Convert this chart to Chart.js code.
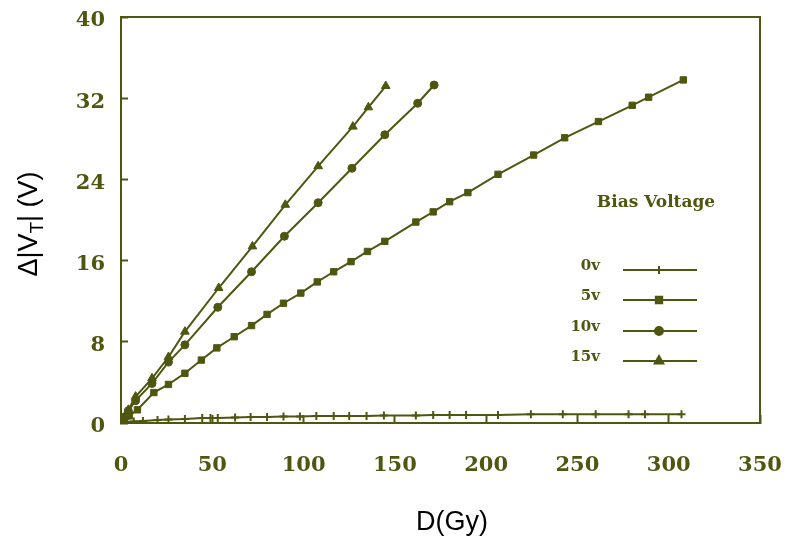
<!DOCTYPE html>
<html>
<head>
<meta charset="utf-8">
<script src="https://cdn.jsdelivr.net/npm/chart.js@4.4.0/dist/chart.umd.min.js"></script>
<style>
  body { margin: 0; background: #fff; }
  #dose { display: block; }
</style>
</head>
<body>
<canvas id="dose" width="786" height="539"></canvas>
<script>
// D (Gy) and delta |VT| (V) for each bias voltage
const dose0v = [0, 3, 7, 12, 20, 26, 35, 44.5, 49, 53, 62.5, 71, 80, 89, 98, 107, 116.5, 125, 134.5, 144, 161.5, 171, 180, 189, 206.5, 224.5, 242, 260, 278, 287, 307];
const shift0v = [0, 0.1, 0.15, 0.2, 0.3, 0.35, 0.4, 0.5, 0.5, 0.5, 0.55, 0.6, 0.6, 0.65, 0.65, 0.7, 0.7, 0.7, 0.7, 0.75, 0.75, 0.8, 0.8, 0.8, 0.8, 0.85, 0.85, 0.85, 0.85, 0.85, 0.85];

const dose5v = [0, 2, 4.5, 9, 18, 26, 35, 44, 52.5, 62, 71.5, 80, 89, 98.5, 107.5, 116.5, 126, 135, 144.5, 161.5, 171, 180, 190, 206.5, 226, 243, 261.5, 280, 289, 308];
const shift5v = [0, 0.3, 0.7, 1.3, 3.0, 3.8, 4.9, 6.2, 7.4, 8.5, 9.6, 10.7, 11.8, 12.8, 13.9, 14.9, 15.9, 16.9, 17.9, 19.8, 20.8, 21.8, 22.7, 24.5, 26.4, 28.1, 29.7, 31.3, 32.1, 33.8];

const dose10v = [0, 2, 4, 8, 17, 26, 35, 53, 71.5, 89.5, 108, 126.5, 144.5, 162.5, 171.5];
const shift10v = [0, 0.6, 1.2, 2.2, 3.9, 6.0, 7.7, 11.4, 14.9, 18.4, 21.7, 25.1, 28.4, 31.5, 33.3];

const dose15v = [0, 2, 4, 8, 17, 26, 35, 53.5, 72, 90, 108, 127, 135.5, 145];
const shift15v = [0, 0.6, 1.3, 2.6, 4.4, 6.5, 9.0, 13.3, 17.4, 21.5, 25.3, 29.2, 31.1, 33.2];

const biasLabels = ['0v', '5v', '10v', '15v'];
const markerStyles = ['cross', 'rect', 'circle', 'triangle'];
const xTicks = [0, 50, 100, 150, 200, 250, 300, 350];
const yTicks = [0, 8, 16, 24, 32, 40];

const ink = '#4f5610';
const tickFont = { family: 'DejaVu Serif', weight: 'bold', size: 21 };

function pairs(xs, ys) {
  return xs.map((x, i) => ({ x: x, y: ys[i] }));
}

const seriesData = [pairs(dose0v, shift0v), pairs(dose5v, shift5v), pairs(dose10v, shift10v), pairs(dose15v, shift15v)];
const markerSize = [4, 4.5, 4, 5];

// frame on top and right, axis titles, legend
const decorations = {
  id: 'decorations',
  afterDraw(chart) {
    const ctx = chart.ctx;
    const a = chart.chartArea;
    ctx.save();
    ctx.strokeStyle = ink;
    ctx.lineWidth = 2;
    ctx.beginPath();
    ctx.moveTo(a.left, a.top);
    ctx.lineTo(a.right, a.top);
    ctx.lineTo(a.right, a.bottom);
    ctx.stroke();

    // x title
    ctx.fillStyle = '#000';
    ctx.font = '27px "Liberation Sans", Arial, sans-serif';
    ctx.textAlign = 'center';
    ctx.textBaseline = 'alphabetic';
    ctx.fillText('D(Gy)', 452, 530);

    // y title, rotated, with subscript T
    ctx.save();
    ctx.translate(37, 224);
    ctx.rotate(-Math.PI / 2);
    const big = '27px "Liberation Sans", Arial, sans-serif';
    const small = '19px "Liberation Sans", Arial, sans-serif';
    const parts = [['\u0394|V', big, 0], ['T', small, 6], ['| (V)', big, 0]];
    let w = 0;
    parts.forEach(p => { ctx.font = p[1]; w += ctx.measureText(p[0]).width; });
    let x = -w / 2;
    ctx.textAlign = 'left';
    parts.forEach(p => {
      ctx.font = p[1];
      ctx.fillText(p[0], x, p[2]);
      x += ctx.measureText(p[0]).width;
    });
    ctx.restore();

    // legend
    ctx.fillStyle = ink;
    ctx.font = 'bold 17px "DejaVu Serif", serif';
    ctx.textAlign = 'center';
    ctx.textBaseline = 'middle';
    ctx.fillText('Bias Voltage', 656, 203);
    const rowY = [270, 300, 331, 361];
    biasLabels.forEach((lab, i) => {
      const y = rowY[i];
      ctx.fillStyle = ink;
      ctx.font = 'bold 15px "DejaVu Serif", serif';
      ctx.textAlign = 'right';
      ctx.fillText(lab, 600, y - 4);
      ctx.strokeStyle = ink;
      ctx.lineWidth = 2;
      ctx.beginPath();
      ctx.moveTo(623, y);
      ctx.lineTo(697, y);
      ctx.stroke();
      Chart.helpers.drawPoint(ctx, {
        pointStyle: markerStyles[i], radius: markerSize[i], rotation: 0, borderWidth: 2
      }, 659, y);
      ctx.fill();
    });
    ctx.restore();
  }
};

new Chart(document.getElementById('dose'), {
  type: 'line',
  data: {
    datasets: seriesData.map((d, i) => ({
      label: biasLabels[i],
      data: d,
      borderColor: ink,
      backgroundColor: ink,
      borderWidth: 2,
      pointStyle: markerStyles[i],
      pointRadius: markerSize[i],
      pointBorderWidth: i === 0 ? 2 : 1,
      tension: 0
    }))
  },
  options: {
    responsive: false,
    animation: false,
    layout: { padding: { left: 0, right: 26, top: 17, bottom: 0 } },
    plugins: { legend: { display: false }, tooltip: { enabled: false } },
    scales: {
      x: {
        type: 'linear',
        min: 0,
        max: 350,
        afterBuildTicks: s => { s.ticks = xTicks.map(v => ({ value: v })); },
        afterFit: s => { s.height = 116; s.paddingLeft = 0; s.paddingRight = 0; },
        grid: { display: true, drawOnChartArea: false, drawTicks: true, tickLength: -8, tickWidth: 2, tickColor: ink },
        border: { color: ink, width: 2 },
        ticks: { color: ink, font: tickFont, padding: 38, maxRotation: 0 }
      },
      y: {
        type: 'linear',
        min: 0,
        max: 40,
        afterBuildTicks: s => { s.ticks = yTicks.map(v => ({ value: v })); },
        afterFit: s => { s.width = 121; s.paddingTop = 0; s.paddingBottom = 0; },
        grid: { display: true, drawOnChartArea: false, drawTicks: true, tickLength: -7, tickWidth: 2, tickColor: ink },
        border: { color: ink, width: 2 },
        ticks: { color: ink, font: tickFont, padding: 23, labelOffset: 4 }
      }
    }
  },
  plugins: [decorations]
});
</script>
</body>
</html>
